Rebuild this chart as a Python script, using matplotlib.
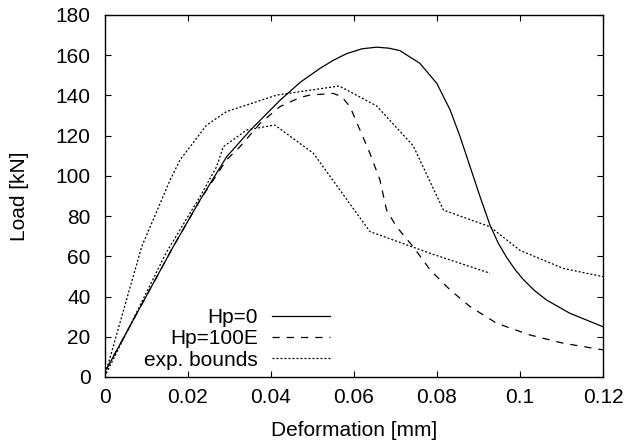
import matplotlib
matplotlib.use("Agg")
import matplotlib.pyplot as plt

plt.rcParams['font.family'] = ['Liberation Sans', 'DejaVu Sans']

# Hp=0 (solid)
hp0_x = [0.0005, 0.010, 0.0166, 0.023, 0.0294, 0.035, 0.0422, 0.0471, 0.0519, 0.0551,
         0.0583, 0.062, 0.0655, 0.0685, 0.0711, 0.0759, 0.080, 0.0832, 0.0856, 0.088,
         0.0904, 0.0928, 0.0948, 0.0968, 0.0988, 0.1008, 0.1035, 0.1064, 0.112, 0.12]
hp0_y = [4, 40, 65, 88, 109.5, 122.5, 137.5, 146.5, 153.5, 157.5,
         160.8, 163.2, 164, 163.5, 162.3, 156, 146, 132.8, 119.5, 104.6,
         89.7, 75.5, 66.5, 59.5, 53.5, 48.5, 43, 38.3, 31.7, 25]

# Hp=100E (dashed)
hp100_x = [0.0005, 0.010, 0.0166, 0.023, 0.0294, 0.0326, 0.0374, 0.0422, 0.0471, 0.0495,
           0.0551, 0.0571, 0.0591, 0.0615, 0.0639, 0.0663, 0.0679, 0.0703, 0.0743, 0.0784,
           0.0832, 0.088, 0.0944, 0.1024, 0.1104, 0.12]
hp100_y = [4, 40, 65, 88, 108, 114.5, 126, 134.4, 139, 140.2,
           141, 139.4, 134.4, 122.8, 111.2, 98, 83, 74.7, 64.8, 53.2,
           43.3, 35, 26.7, 20.9, 16.8, 13.5]

# experimental bounds (dotted): upper and lower
upper_x = [0, 0.00895, 0.0158, 0.0182, 0.0246, 0.0294, 0.0415, 0.0565, 0.0655, 0.0743,
           0.0816, 0.0928, 0.1, 0.1104, 0.12]
upper_y = [0, 64.8, 98, 108, 125.3, 132, 140.2, 144.7, 134.8, 115,
           83, 74.7, 63, 54, 49.9]
lower_x = [0, 0.0149, 0.023, 0.027, 0.0286, 0.0342, 0.041, 0.047, 0.0503, 0.0639, 0.0784, 0.0928]
lower_y = [0, 62, 89.7, 104.6, 114.5, 122.8, 125.3, 116.2, 111.2, 72.3, 61.5, 51.6]

x_ticks = [0, 0.02, 0.04, 0.06, 0.08, 0.1, 0.12]
x_ticklabels = ['0', '0.02', '0.04', '0.06', '0.08', '0.1', '0.12']
y_ticks = [0, 20, 40, 60, 80, 100, 120, 140, 160, 180]

fig = plt.figure(figsize=(6.3, 4.45), dpi=100)
ax = fig.add_axes([104.5 / 630, 1 - 377 / 445, (603 - 104.5) / 630, (377 - 15) / 445])

lw = 0.9
ax.plot(hp0_x, hp0_y, color='black', lw=lw, ls='-', label='Hp=0')
ax.plot(hp100_x, hp100_y, color='black', lw=lw, ls=(0, (5.8, 5.6)), label='Hp=100E')
ax.plot(upper_x, upper_y, color='black', lw=lw, ls=(0, (1.6, 1.6)), label='exp. bounds')
ax.plot(lower_x, lower_y, color='black', lw=lw, ls=(0, (1.6, 1.6)))

ax.set_xlim(0, 0.12)
ax.set_ylim(0, 180)
ax.set_xticks(x_ticks)
ax.set_xticklabels(x_ticklabels)
ax.set_yticks(y_ticks)
ax.tick_params(direction='in', length=4.5, width=0.8, top=True, right=True,
               labelsize=15)
ax.tick_params(axis='x', pad=8)
ax.tick_params(axis='y', pad=10)
for s in ax.spines.values():
    s.set_linewidth(1.0)

ax.set_xlabel('Deformation [mm]', fontsize=15, labelpad=10)
ax.set_ylabel('Load [kN]', fontsize=15, labelpad=19)

leg = ax.legend(loc='center right', bbox_to_anchor=((330 - 104.5) / (603 - 104.5), (377 - 339) / 362),
                frameon=False, markerfirst=False, fontsize=15, handlelength=2.8,
                handletextpad=0.65, labelspacing=0.1, borderpad=0, borderaxespad=0)

fig.savefig('out.png', dpi=100)
